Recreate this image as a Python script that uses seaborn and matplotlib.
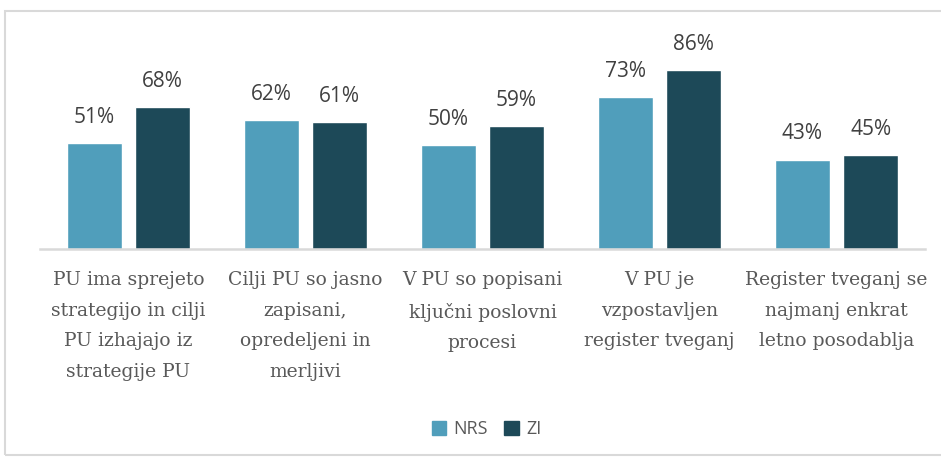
import matplotlib.pyplot as plt
import matplotlib.patches as mpatches
import seaborn as sns
import pandas as pd

categories = [
    'PU ima sprejeto\nstrategijo in cilji\nPU izhajajo iz\nstrategije PU',
    'Cilji PU so jasno\nzapisani,\nopredeljeni in\nmerljivi',
    'V PU so popisani\nključni poslovni\nprocesi',
    'V PU je\nvzpostavljen\nregister tveganj',
    'Register tveganj se\nnajmanj enkrat\nletno posodablja',
]
series = ['NRS', 'ZI']
nrs_values = [0.51, 0.62, 0.50, 0.73, 0.43]
zi_values = [0.68, 0.61, 0.59, 0.86, 0.45]
colors = ['#509EBB', '#1D4958']
sans = ['Open Sans', 'DejaVu Sans']

df = pd.DataFrame({
    'kategorija': categories * 2,
    'skupina': [series[0]] * len(categories) + [series[1]] * len(categories),
    'delez': nrs_values + zi_values,
})

sns.set_style('white')
fig = plt.figure(figsize=(9.41, 4.59), dpi=100)
ax = fig.add_axes([0.0425, 0.4575, 0.9405, 0.4535])

sns.barplot(data=df, x='kategorija', y='delez', hue='skupina',
            palette=colors, saturation=1, width=0.77, gap=0.2, ax=ax, legend=False)

# value labels above bars
for container in ax.containers:
    ax.bar_label(container, labels=[f'{v * 100:.0f}%' for v in container.datavalues],
                 padding=11, fontsize=15, color='#404040', family=sans)

ax.set_ylim(0, 1.0)
ax.set_xlim(-0.5, len(categories) - 0.5)
ax.set_yticks([])
ax.set_xlabel('')
ax.set_ylabel('')
for s in ['top', 'right', 'left']:
    ax.spines[s].set_visible(False)
ax.spines['bottom'].set_color('#d9d9d9')
ax.spines['bottom'].set_linewidth(1.8)
ax.tick_params(axis='x', length=0, pad=16)
ax.set_xticks(range(len(categories)))
ax.set_xticklabels(categories, fontsize=13.5, color='#595959',
                   family='DejaVu Serif', linespacing=1.9, va='top')

# legend
handles = [mpatches.Patch(color=c, label=s) for c, s in zip(colors, series)]
fig.legend(handles=handles, loc='center', bbox_to_anchor=(0.517, 0.065), ncol=2,
           frameon=False, prop={'family': sans, 'size': 13},
           handlelength=0.8, handleheight=0.8, handletextpad=0.4, columnspacing=0.9,
           labelcolor='#595959')

# outer chart border
fig.patches.append(mpatches.Rectangle((0.005, 0.008), 1.2, 0.967, transform=fig.transFigure,
                                      fill=False, edgecolor='#d9d9d9', linewidth=1.5))

fig.savefig('out.png', dpi=100)
